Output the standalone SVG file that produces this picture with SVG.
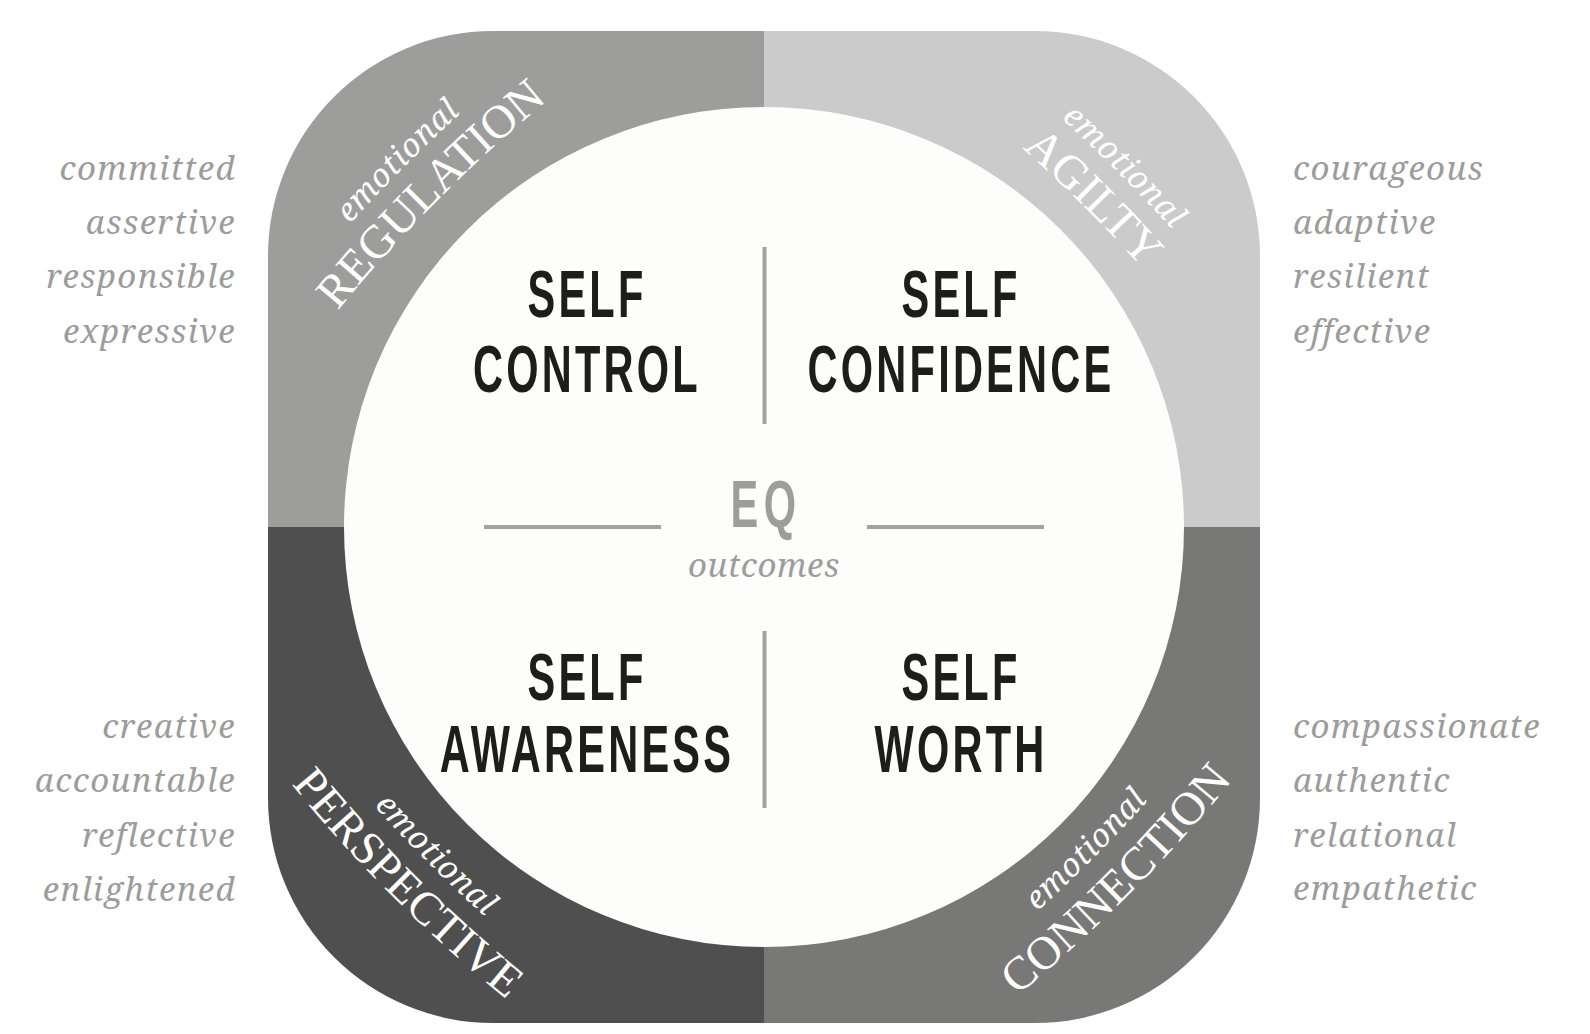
<svg xmlns="http://www.w3.org/2000/svg" width="1590" height="1034" viewBox="0 0 1590 1034">
<style>
.cap{font-family:"Liberation Sans",Arial,sans-serif;font-weight:700;font-size:67px;letter-spacing:5.2px;fill:#1d1d1b;text-anchor:middle}
.eq{fill:#9d9d9c}
.list{font-family:"Noto Serif","DejaVu Serif","Liberation Serif",serif;font-style:italic;font-size:33px;letter-spacing:1.4px;fill:#9c9c9b}
.end{text-anchor:end}
.arc{font-family:"Liberation Serif","Times New Roman",serif;font-size:47px;fill:#ffffff}
.emo{font-family:"Noto Serif","DejaVu Serif","Liberation Serif",serif;font-style:italic;font-size:32px;letter-spacing:0.8px;fill:#ffffff}
.div{stroke:#a2a2a1;stroke-width:4;fill:none}
</style>
<defs>
<path id="p-tl-cap" d="M247.8,432.2 A1500,1500 0 0 1 669.2,10.8"/>
<path id="p-tl-emo" d="M208.6,406.2 A1547,1547 0 0 1 643.2,-28.4"/>
<path id="p-tr-cap" d="M852.4,17.2 A1500,1500 0 0 1 1273.8,438.6"/>
<path id="p-tr-emo" d="M879.0,-22.8 A1548,1548 0 0 1 1313.8,412.0"/>
<path id="p-bl-cap" d="M204.0,665.6 A1500,1500 0 0 0 625.4,1087.0"/>
<path id="p-bl-emo" d="M244.7,638.5 A1451,1451 0 0 0 652.5,1046.3"/>
<path id="p-br-cap" d="M898.4,1082.8 A1500,1500 0 0 0 1319.8,661.4"/>
<path id="p-br-emo" d="M869.9,1040.7 A1451,1451 0 0 0 1277.7,632.9"/>
</defs>
<rect width="1590" height="1034" fill="#ffffff"/>

<g id="q-regulation">
<path d="M764,527 H268 V256 A225,225 0 0 1 493,31 H764 Z" fill="#9d9d9c"/>
<text class="emo" text-anchor="middle"><textPath href="#p-tl-emo" startOffset="50%">emotional</textPath></text>
<text class="arc" text-anchor="middle"><textPath href="#p-tl-cap" startOffset="50%">REGULATION</textPath></text>
</g>
<g id="q-agility">
<path d="M764,527 V31 H1035 A225,225 0 0 1 1260,256 V527 Z" fill="#cbcbcb"/>
<text class="emo" text-anchor="middle"><textPath href="#p-tr-emo" startOffset="50%">emotional</textPath></text>
<text class="arc" text-anchor="middle"><textPath href="#p-tr-cap" startOffset="50%">AGILTY</textPath></text>
</g>
<g id="q-perspective">
<path d="M764,527 V1023 H493 A225,225 0 0 1 268,798 V527 Z" fill="#4f4f4f"/>
<text class="emo" text-anchor="middle"><textPath href="#p-bl-emo" startOffset="50%">emotional</textPath></text>
<text class="arc" text-anchor="middle"><textPath href="#p-bl-cap" startOffset="50%">PERSPECTIVE</textPath></text>
</g>
<g id="q-connection">
<path d="M764,527 H1260 V798 A225,225 0 0 1 1035,1023 H764 Z" fill="#787877"/>
<text class="emo" text-anchor="middle"><textPath href="#p-br-emo" startOffset="50%">emotional</textPath></text>
<text class="arc" text-anchor="middle"><textPath href="#p-br-cap" startOffset="50%">CONNECTION</textPath></text>
</g>

<g id="core">
<circle cx="764" cy="527" r="420" fill="#fdfdfb"/>
</g>

<g id="connectors">
<line class="div" x1="764.5" y1="247" x2="764.5" y2="424"/>
<line class="div" x1="764.5" y1="631" x2="764.5" y2="808"/>
<line class="div" x1="484" y1="527" x2="661" y2="527"/>
<line class="div" x1="867" y1="527" x2="1044" y2="527"/>
</g>

<g id="self-control" transform="translate(587,0) scale(0.62,1)">
<text class="cap" x="0" y="317.5">SELF</text>
<text class="cap" x="0" y="392.5">CONTROL</text>
</g>
<g id="self-confidence" transform="translate(961,0) scale(0.62,1)">
<text class="cap" x="0" y="317.5">SELF</text>
<text class="cap" x="0" y="392.5">CONFIDENCE</text>
</g>
<g id="self-awareness" transform="translate(587,0) scale(0.62,1)">
<text class="cap" x="0" y="700">SELF</text>
<text class="cap" x="0" y="772">AWARENESS</text>
</g>
<g id="self-worth" transform="translate(961,0) scale(0.62,1)">
<text class="cap" x="0" y="700">SELF</text>
<text class="cap" x="0" y="772">WORTH</text>
</g>
<g id="eq">
<g transform="translate(766,0) scale(0.62,1)"><text class="cap eq" x="0" y="527" style="letter-spacing:9px">EQ</text></g>
<text class="list" x="764" y="577" text-anchor="middle" style="letter-spacing:0.6px">outcomes</text>
</g>

<g id="list-regulation" class="list end">
<text x="236" y="180">committed</text>
<text x="236" y="234">assertive</text>
<text x="236" y="288">responsible</text>
<text x="236" y="343">expressive</text>
</g>
<g id="list-agility" class="list">
<text x="1293" y="180">courageous</text>
<text x="1293" y="234">adaptive</text>
<text x="1293" y="288">resilient</text>
<text x="1293" y="343">effective</text>
</g>
<g id="list-perspective" class="list end">
<text x="236" y="738">creative</text>
<text x="236" y="792">accountable</text>
<text x="236" y="847">reflective</text>
<text x="236" y="901">enlightened</text>
</g>
<g id="list-connection" class="list">
<text x="1293" y="738">compassionate</text>
<text x="1293" y="792">authentic</text>
<text x="1293" y="847">relational</text>
<text x="1293" y="900">empathetic</text>
</g>
</svg>
